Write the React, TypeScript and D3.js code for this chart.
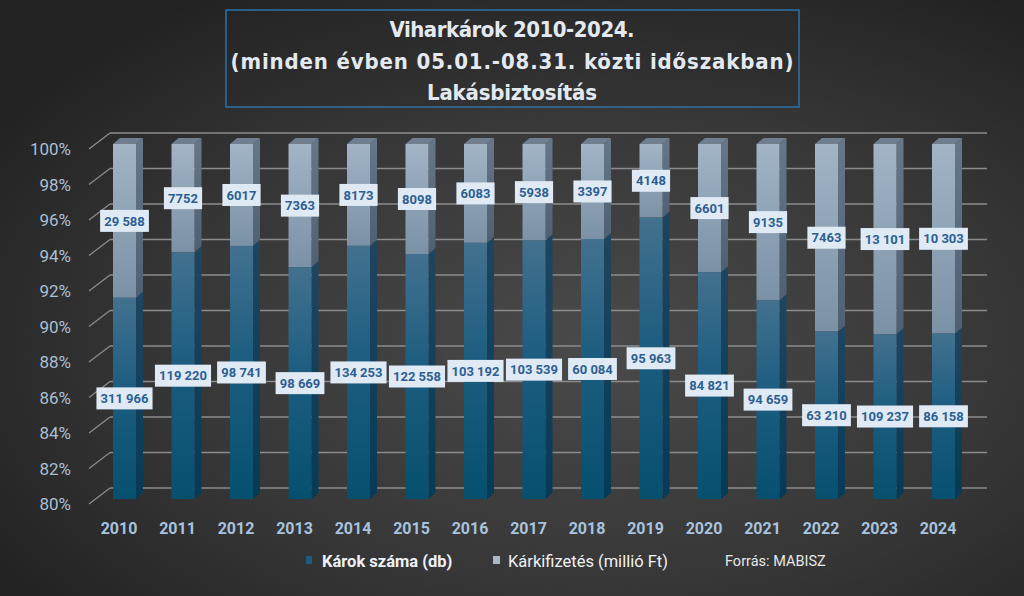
import React from "react";
import * as d3 from "d3";

const years = ["2010","2011","2012","2013","2014","2015","2016","2017","2018","2019","2020","2021","2022","2023","2024"];
const claims = [311966,119220,98741,98669,134253,122558,103192,103539,60084,95963,84821,94659,63210,109237,86158];
const payouts = [29588,7752,6017,7363,8173,8098,6083,5938,3397,4148,6601,9135,7463,13101,10303];
const yTicks = [80,82,84,86,88,90,92,94,96,98,100];
const titleLines = ["Viharkárok 2010-2024.", "(minden évben 05.01.-08.31. közti időszakban)", "Lakásbiztosítás"];
const legendItems = ["Károk száma (db)", "Kárkifizetés (millió Ft)"];
const source = "Forrás: MABISZ";

const W = 1024, H = 596;
const FONT = "Roboto, 'Noto Sans', sans-serif";

const grp = d3.formatLocale({ decimal: ",", thousands: " ", grouping: [3], currency: ["", " Ft"] }).format(",d");
const fmt = (v: number) => (v >= 10000 ? grp(v) : String(v));

export default function App() {
  // front edge of the floor/wall plane
  const yF = d3.scaleLinear().domain([80, 100]).range([504, 149]);
  const wallDx = 21, wallDy = -16;
  const barDy = -5; // bar front plane offset
  const xC = d3.scaleLinear().domain([0, years.length - 1]).range([124.5, 943.5]);
  const bw = 23, dx = 7, dy = 6;
  const yB = (v: number) => yF(v) + barDy;

  const split = claims.map((c, i) => (c / (c + payouts[i])) * 100);

  return (
    <svg width={W} height={H} style={{ position: "absolute", left: 0, top: 0, display: "block" }}>
      <defs>
        <radialGradient id="bg" cx="58%" cy="58%" r="70%">
          <stop offset="0%" stopColor="#4a4a4a" />
          <stop offset="60%" stopColor="#363636" />
          <stop offset="100%" stopColor="#222222" />
        </radialGradient>
        <linearGradient id="upFront" x1="0" y1="0" x2="0" y2="1">
          <stop offset="0%" stopColor="#a2b4c6" />
          <stop offset="100%" stopColor="#7b91a6" />
        </linearGradient>
        <linearGradient id="lowFront" x1="0" y1="0" x2="0" y2="1">
          <stop offset="0%" stopColor="#43718f" />
          <stop offset="45%" stopColor="#1d5d80" />
          <stop offset="100%" stopColor="#06506f" />
        </linearGradient>
        <linearGradient id="upSide" x1="0" y1="0" x2="0" y2="1">
          <stop offset="0%" stopColor="#66778a" />
          <stop offset="100%" stopColor="#4f6072" />
        </linearGradient>
        <linearGradient id="lowSide" x1="0" y1="0" x2="0" y2="1">
          <stop offset="0%" stopColor="#1f4560" />
          <stop offset="100%" stopColor="#073a55" />
        </linearGradient>
      </defs>
      <rect x={0} y={0} width={W} height={H} fill="url(#bg)" />

      {/* title */}
      <rect x={226} y={10} width={573} height={97} fill="rgba(40,40,40,0.25)" stroke="#2e72a8" strokeWidth={1.5} />
      {titleLines.map((t, i) => (
        <text key={i} x={512} y={37 + i * 31.5} textAnchor="middle" fill="#e3e9ef"
          fontFamily="'DejaVu Sans Condensed', 'DejaVu Sans', sans-serif" fontWeight="bold" fontSize={22}
          textLength={[245, 563, 170][i]} lengthAdjust="spacing">{t}</text>
      ))}

      {/* gridlines */}
      {yTicks.map((v) => (
        <g key={v}>
          <line x1={89} y1={yF(v)} x2={89 + wallDx} y2={yF(v) + wallDy} stroke="#8c8c8c" strokeWidth={1.3} />
          <line x1={89 + wallDx} y1={yF(v) + wallDy} x2={987} y2={yF(v) + wallDy} stroke="#8c8c8c" strokeWidth={1.5} />
          <text x={71} y={yF(v) + 6} textAnchor="end" fill="#a9bfd4" fontFamily={FONT} fontSize={17}>{v}%</text>
        </g>
      ))}

      {/* bars */}
      {years.map((yr, i) => {
        const x0 = xC(i) - bw / 2;
        const yTop = yB(100), ySplit = yB(split[i]), yBot = yB(80);
        return (
          <g key={yr}>
            {/* side faces */}
            <path d={`M${x0 + bw},${ySplit} L${x0 + bw + dx},${ySplit - dy} L${x0 + bw + dx},${yBot - dy} L${x0 + bw},${yBot} Z`} fill="url(#lowSide)" />
            <path d={`M${x0 + bw},${yTop} L${x0 + bw + dx},${yTop - dy} L${x0 + bw + dx},${ySplit - dy} L${x0 + bw},${ySplit} Z`} fill="url(#upSide)" />
            {/* top face */}
            <path d={`M${x0},${yTop} L${x0 + dx},${yTop - dy} L${x0 + bw + dx},${yTop - dy} L${x0 + bw},${yTop} Z`} fill="#6f7f8f" />
            {/* fronts */}
            <rect x={x0} y={yTop} width={bw} height={ySplit - yTop} fill="url(#upFront)" />
            <rect x={x0} y={ySplit} width={bw} height={yBot - ySplit} fill="url(#lowFront)" />
            {/* year label */}
            <text x={xC(i) - 5.5} y={534} textAnchor="middle" fill="#a7c3df" fontFamily={FONT} fontWeight="bold" fontSize={16}>{yr}</text>
          </g>
        );
      })}

      {/* data labels */}
      {years.map((yr, i) => {
        const items = [
          { v: payouts[i], y: yB((100 + split[i]) / 2) },
          { v: claims[i], y: yB((80 + split[i]) / 2) },
        ];
        return items.map((it, k) => {
          const s = fmt(it.v);
          const tw = s.length * 7.3 - (s.includes(" ") ? 4 : 0);
          const bwid = tw + 9;
          return (
            <g key={yr + k}>
              <rect x={xC(i) - bwid / 2} y={it.y - 11} width={bwid} height={22} fill="#dfeaf5" />
              <text x={xC(i)} y={it.y + 4.7} textAnchor="middle" fill="#2d5f92" fontFamily={FONT} fontWeight="bold" fontSize={13}>{s}</text>
            </g>
          );
        });
      })}

      {/* legend */}
      <rect x={306} y={556} width={6} height={8} fill="#1b5d80" />
      <text x={322} y={567} fill="#eef2f6" fontFamily={FONT} fontWeight="bold" fontSize={16.5}>{legendItems[0]}</text>
      <rect x={493} y={556} width={7} height={8} fill="#a8b8c7" />
      <text x={508} y={567} fill="#eef2f6" fontFamily={FONT} fontSize={16.5}>{legendItems[1]}</text>
      <text x={725} y={566} fill="#e6e6e6" fontFamily={FONT} fontSize={14.5}>{source}</text>
    </svg>
  );
}
